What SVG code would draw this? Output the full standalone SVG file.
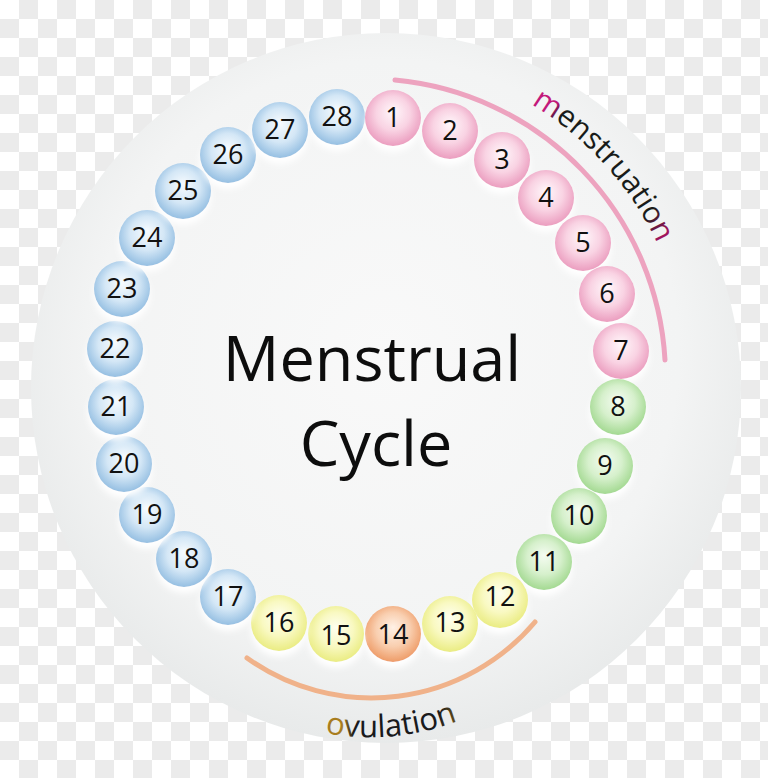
<svg xmlns="http://www.w3.org/2000/svg" xmlns:xlink="http://www.w3.org/1999/xlink" width="768" height="778" viewBox="0 0 768 778">
<defs>
<pattern id="checker" x="0" y="0" width="38" height="38" patternUnits="userSpaceOnUse">
<rect width="38" height="38" fill="#ffffff"/>
<rect x="19" y="0" width="19" height="19" fill="#ebebeb"/>
<rect x="0" y="19" width="19" height="19" fill="#ebebeb"/>
</pattern>
<radialGradient id="bg" cx="0.5" cy="0.45" r="0.55">
<stop offset="0" stop-color="#f9f9f9"/>
<stop offset="0.75" stop-color="#f3f4f4"/>
<stop offset="1" stop-color="#e8eaea"/>
</radialGradient>
<radialGradient id="gPink" cx="0.5" cy="0.45" r="0.55" fx="0.5" fy="0.38">
<stop offset="0" stop-color="#fff8fb"/>
<stop offset="0.55" stop-color="#f9d3e3"/>
<stop offset="1" stop-color="#eb9dbf"/>
</radialGradient>
<radialGradient id="gBlue" cx="0.5" cy="0.45" r="0.55" fx="0.5" fy="0.38">
<stop offset="0" stop-color="#f7fbfe"/>
<stop offset="0.55" stop-color="#d4e7f6"/>
<stop offset="1" stop-color="#95bfe2"/>
</radialGradient>
<radialGradient id="gGreen" cx="0.5" cy="0.45" r="0.55" fx="0.5" fy="0.38">
<stop offset="0" stop-color="#f5fcf2"/>
<stop offset="0.55" stop-color="#d6f0cc"/>
<stop offset="1" stop-color="#a3d991"/>
</radialGradient>
<radialGradient id="gYellow" cx="0.5" cy="0.45" r="0.55" fx="0.5" fy="0.38">
<stop offset="0" stop-color="#fefff0"/>
<stop offset="0.55" stop-color="#f9f9c2"/>
<stop offset="1" stop-color="#eaec82"/>
</radialGradient>
<radialGradient id="gOrange" cx="0.5" cy="0.45" r="0.55" fx="0.5" fy="0.38">
<stop offset="0" stop-color="#fff1e6"/>
<stop offset="0.55" stop-color="#f9cfb0"/>
<stop offset="1" stop-color="#ee9c68"/>
</radialGradient>
<linearGradient id="mFill" gradientUnits="userSpaceOnUse" x1="532" y1="100" x2="672" y2="240">
<stop offset="0" stop-color="#c2187a"/>
<stop offset="0.1" stop-color="#c2187a"/>
<stop offset="0.16" stop-color="#1a1a1a"/>
<stop offset="0.82" stop-color="#1a1a1a"/>
<stop offset="0.95" stop-color="#a0145f"/>
<stop offset="1" stop-color="#a0145f"/>
</linearGradient>
<linearGradient id="oFill" gradientUnits="userSpaceOnUse" x1="326" y1="0" x2="466" y2="0">
<stop offset="0" stop-color="#a87d1e"/>
<stop offset="0.12" stop-color="#a87d1e"/>
<stop offset="0.2" stop-color="#1a1a1a"/>
<stop offset="0.8" stop-color="#1a1a1a"/>
<stop offset="1" stop-color="#8a6a1a"/>
</linearGradient>
<filter id="glow" x="-30%" y="-30%" width="160%" height="170%">
<feDropShadow dx="0" dy="6" stdDeviation="3" flood-color="#ffffff" flood-opacity="1"/>
</filter>
<path id="mArc" d="M531.1,104.4 A320,320 0 0 1 676.2,294.7"/>
<path id="oArc" d="M325.1,733.2 A247,247 0 0 0 528.8,679.2"/>
<style>
.ball { filter: url(#glow); }
.num { font-family: "Open Sans", "Liberation Sans", sans-serif; font-size: 27px; font-weight: 500; fill: #111111; text-anchor: middle; }
.title { font-family: "Open Sans", "Liberation Sans", sans-serif; font-size: 63px; font-weight: 500; fill: #0d0d0d; text-anchor: middle; }
.lbl { font-family: "Open Sans", "Liberation Sans", sans-serif; font-weight: 500; }
</style>
</defs>

<rect width="768" height="778" fill="url(#checker)"/>
<circle cx="386" cy="388" r="355" fill="url(#bg)"/>

<g id="connectors">
<path d="M395,80 A298,298 0 0 1 665,360" fill="none" stroke="#eda3bf" stroke-width="5" stroke-linecap="round"/>
<path d="M247,658 A214,214 0 0 0 535,622" fill="none" stroke="#f0b28a" stroke-width="5" stroke-linecap="round"/>
</g>

<g id="label-menstruation">
<text class="lbl" font-size="30" fill="url(#mFill)"><textPath xlink:href="#mArc" href="#mArc">menstruation</textPath></text>
</g>
<g id="label-ovulation">
<text class="lbl" font-size="31" fill="url(#oFill)"><textPath xlink:href="#oArc" href="#oArc">ovulation</textPath></text>
</g>

<g id="title">
<text class="title" x="372" y="381">Menstrual</text>
<text class="title" x="376" y="466">Cycle</text>
</g>

<g id="day28"><circle class="ball" cx="337" cy="117" r="28" fill="url(#gBlue)"/><text class="num" x="337" y="126">28</text></g>
<g id="day1"><circle class="ball" cx="393" cy="118" r="28" fill="url(#gPink)"/><text class="num" x="393" y="127">1</text></g>
<g id="day2"><circle class="ball" cx="450" cy="131" r="28" fill="url(#gPink)"/><text class="num" x="450" y="140">2</text></g>
<g id="day3"><circle class="ball" cx="502" cy="160" r="28" fill="url(#gPink)"/><text class="num" x="502" y="169">3</text></g>
<g id="day4"><circle class="ball" cx="546" cy="198" r="28" fill="url(#gPink)"/><text class="num" x="546" y="207">4</text></g>
<g id="day5"><circle class="ball" cx="583" cy="243" r="28" fill="url(#gPink)"/><text class="num" x="583" y="252">5</text></g>
<g id="day6"><circle class="ball" cx="607" cy="294" r="28" fill="url(#gPink)"/><text class="num" x="607" y="303">6</text></g>
<g id="day7"><circle class="ball" cx="621" cy="351" r="28" fill="url(#gPink)"/><text class="num" x="621" y="360">7</text></g>
<g id="day8"><circle class="ball" cx="618" cy="407" r="28" fill="url(#gGreen)"/><text class="num" x="618" y="416">8</text></g>
<g id="day9"><circle class="ball" cx="605" cy="466" r="28" fill="url(#gGreen)"/><text class="num" x="605" y="475">9</text></g>
<g id="day10"><circle class="ball" cx="579" cy="516" r="28" fill="url(#gGreen)"/><text class="num" x="579" y="525">10</text></g>
<g id="day11"><circle class="ball" cx="544" cy="562" r="28" fill="url(#gGreen)"/><text class="num" x="544" y="571">11</text></g>
<g id="day12"><circle class="ball" cx="500" cy="600" r="28" fill="url(#gYellow)"/><text class="num" x="500" y="606">12</text></g>
<g id="day13"><circle class="ball" cx="450" cy="624" r="28" fill="url(#gYellow)"/><text class="num" x="450" y="632">13</text></g>
<g id="day14"><circle class="ball" cx="393" cy="634" r="28" fill="url(#gOrange)"/><text class="num" x="393" y="644">14</text></g>
<g id="day15"><circle class="ball" cx="336" cy="634" r="28" fill="url(#gYellow)"/><text class="num" x="336" y="645">15</text></g>
<g id="day16"><circle class="ball" cx="279" cy="623" r="28" fill="url(#gYellow)"/><text class="num" x="279" y="632">16</text></g>
<g id="day17"><circle class="ball" cx="228" cy="597" r="28" fill="url(#gBlue)"/><text class="num" x="228" y="606">17</text></g>
<g id="day18"><circle class="ball" cx="184" cy="559" r="28" fill="url(#gBlue)"/><text class="num" x="184" y="568">18</text></g>
<g id="day19"><circle class="ball" cx="147" cy="515" r="28" fill="url(#gBlue)"/><text class="num" x="147" y="524">19</text></g>
<g id="day20"><circle class="ball" cx="124" cy="464" r="28" fill="url(#gBlue)"/><text class="num" x="124" y="473">20</text></g>
<g id="day21"><circle class="ball" cx="116" cy="407" r="28" fill="url(#gBlue)"/><text class="num" x="116" y="416">21</text></g>
<g id="day22"><circle class="ball" cx="115" cy="349" r="28" fill="url(#gBlue)"/><text class="num" x="115" y="358">22</text></g>
<g id="day23"><circle class="ball" cx="122" cy="289" r="28" fill="url(#gBlue)"/><text class="num" x="122" y="298">23</text></g>
<g id="day24"><circle class="ball" cx="147" cy="238" r="28" fill="url(#gBlue)"/><text class="num" x="147" y="247">24</text></g>
<g id="day25"><circle class="ball" cx="183" cy="191" r="28" fill="url(#gBlue)"/><text class="num" x="183" y="200">25</text></g>
<g id="day26"><circle class="ball" cx="228" cy="155" r="28" fill="url(#gBlue)"/><text class="num" x="228" y="164">26</text></g>
<g id="day27"><circle class="ball" cx="280" cy="130" r="28" fill="url(#gBlue)"/><text class="num" x="280" y="139">27</text></g>
</svg>
